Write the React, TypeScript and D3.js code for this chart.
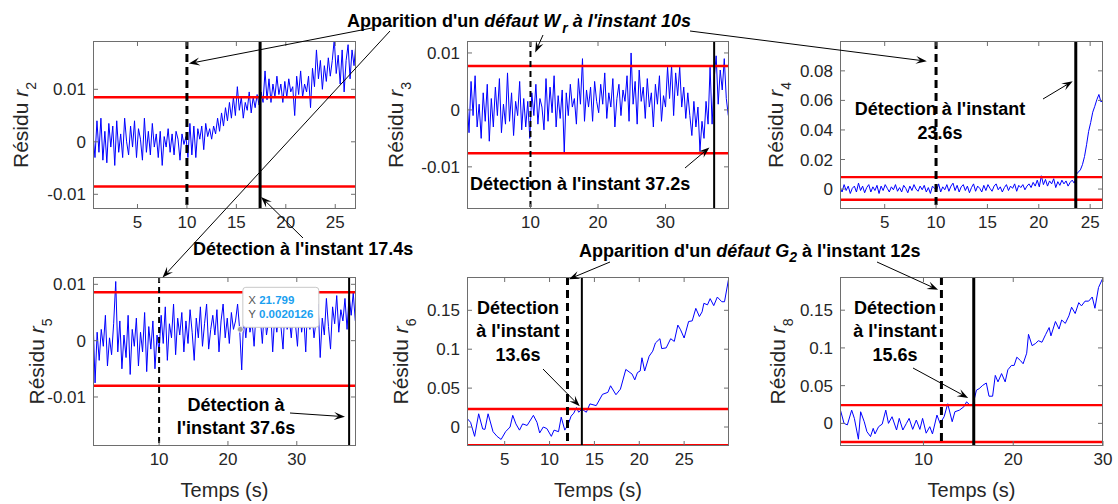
import React from "react";
import * as d3 from "d3";

const FONT = "'Liberation Sans', Arial, Helvetica, sans-serif";

// ---------------- data ----------------
const r2Start = 0.5;
const r2Step = 0.2;
const r2Values = [
  0.0015, -0.003, 0.004, -0.002, 0.0045, -0.0035, 0.002, -0.004, 0.0035, -0.001,
  0.003, -0.0045, 0.004, -0.002, 0.0015, -0.003, 0.0045, 0.0, -0.0025, 0.003,
  -0.001, 0.004, -0.003, 0.0025, 0.0005, -0.0035, 0.0045, -0.002, 0.002, -0.0025,
  0.0035, -0.001, 0.0015, -0.003, 0.002, -0.0045, 0.001, -0.001, 0.0025, -0.002,
  0.0015, -0.0025, 0.002, 0.0005, -0.0035, 0.0015, -0.0005, 0.001,
  -0.003, 0.0035, -0.0025, 0.003, -0.003, 0.0025, 0.0005, 0.003, -0.0015, 0.0035,
  0.001, 0.0025, 0.0005, 0.003, 0.0015, 0.0045, 0.002, 0.0055, 0.003, 0.0065,
  0.004, 0.0075, 0.0045, 0.0085, 0.005, 0.0105, 0.006, 0.0085, 0.0045, 0.0075,
  0.006, 0.0095, 0.0055, 0.0085, 0.0065, 0.009, 0.007, 0.0095, 0.0075, 0.0135,
  0.008, 0.012, 0.0075, 0.011, 0.0085, 0.0125, 0.009, 0.011, 0.0075, 0.0115,
  0.0085, 0.012, 0.0095, 0.0105, 0.005, 0.0125, 0.009, 0.0135, 0.0085, 0.011,
  0.0095, 0.0125, 0.0065, 0.014, 0.0105, 0.0175, 0.012, 0.0155, 0.01, 0.0145,
  0.0115, 0.016, 0.0125, 0.0155, 0.0195, 0.013, 0.0165, 0.011, 0.0175, 0.0095,
  0.0155, 0.0185, 0.012, 0.0175, 0.0145, 0.019,
];

const r3Start = 0.6;
const r3Step = 0.3;
const r3Values = [
  0.002, -0.004, 0.005, -0.001, 0.006, -0.003, 0.001, -0.005, 0.003, -0.002,
  0.0045, -0.0055, 0.002, -0.003, 0.004, -0.001, 0.0055, -0.004, 0.001, -0.0025,
  0.0065, -0.002, 0.003, -0.0045, 0.0015, -0.001, 0.005, -0.0035, 0.002, -0.003,
  0.0015, -0.005, 0.003, -0.001, 0.0045, -0.0025, 0.002, 0.0005, -0.0035, 0.0055,
  -0.002, 0.004, -0.0005, 0.006, -0.003, 0.0025, -0.0015, 0.0035, -0.0075, 0.003,
  -0.001, 0.0045, 0.0005, 0.002, -0.0025, 0.0055, 0.001, 0.009, -0.002, 0.0035,
  0.0005, 0.004, -0.002, 0.005, 0.0015, -0.0005, 0.0045, 0.001, 0.0065, -0.0015,
  0.003, 0.0005, 0.0055, -0.003, 0.002, 0.0045, -0.001, 0.0035, 0.0015, 0.006,
  -0.002, 0.01, 0.001, 0.005, -0.0025, 0.007, 0.0015, 0.004, -0.0015, 0.0055,
  0.0005, 0.003, -0.003, 0.0045, 0.001, 0.006, -0.002, 0.0025, 0.0005, 0.0075,
  0.002, 0.0078, -0.001, 0.0065, 0.0025, 0.0075, 0.0005, 0.004, -0.0015, 0.003,
  -0.001, -0.0045, 0.0015, -0.003, 0.0005, -0.0072, -0.002, -0.005, 0.0015, -0.0025,
  0.0075, -0.0025, 0.0055, 0.0095, 0.001, 0.007, 0.0035, 0.009, 0.002, -0.001,
];

const r4Start = 0.65;
const r4Step = 0.2;
const r4Values = [
  0.001, -0.002, 0.003, -0.001, 0.002, -0.003, 0.0005, 0.002, -0.002, 0.004,
  -0.001, 0.002, -0.0025, 0.001, 0.003, -0.002, 0.0015, -0.001, 0.0025, -0.003,
  0.002, -0.001, 0.003, 0.0005, -0.002, 0.0015, -0.0005, 0.003, -0.0015, 0.001,
  -0.002, 0.0025, 0.0005, -0.0025, 0.002, -0.001, 0.003, 0.0, -0.0015, 0.002,
  -0.0005, 0.0025, -0.002, 0.001, -0.003, 0.002, 0.0005, -0.001, 0.0035, -0.002,
  0.0015, -0.0005, 0.003, -0.0015, 0.002, 0.004, -0.001, 0.0025, -0.002, 0.0015,
  0.003, -0.001, 0.002, -0.0025, 0.001, 0.0035, -0.0015, 0.002, 0.0005, -0.002,
  0.0025, -0.001, 0.003, 0.0005, -0.0015, 0.002, 0.0035, -0.0005, 0.0015, -0.002,
  0.001, 0.003, -0.001, 0.002, 0.0005, 0.0035, -0.0015, 0.0025, 0.001, 0.003,
  -0.0005, 0.002, 0.0035, 0.001, 0.0045, 0.002, 0.006, 0.0015, 0.009, 0.003,
  0.0065, 0.002, 0.0055, 0.0035, 0.007, 0.001, 0.005, 0.0025, 0.006, 0.0035,
  0.0055, 0.002, 0.0045, 0.006, 0.004,
  0.01, 0.0115, 0.013, 0.0165, 0.022, 0.03, 0.039, 0.045, 0.052, 0.056,
  0.0605, 0.064, 0.059, 0.06,
];

const r5Start = 0.4;
const r5Step = 0.3;
const r5Values = [
  0.004, -0.0075, 0.0015, -0.0035, 0.002, -0.001, 0.0045, -0.0045, 0.0005, -0.0025,
  0.003, 0.0105, -0.002, 0.0035, -0.005, 0.001, -0.003, 0.0045, -0.006, 0.002,
  -0.001, 0.004, -0.0045, 0.0015, -0.002, 0.005, -0.0055, 0.0025, -0.0015, 0.0035,
  -0.005, 0.001, -0.002, 0.0045, -0.0005, 0.006, -0.0035, 0.003, 0.0005, 0.0065,
  -0.0025, 0.004, 0.001, 0.005, -0.002, 0.0035, -0.0005, 0.0055, 0.0015, -0.0035,
  0.004, 0.0005, 0.006, -0.001, 0.003, 0.0065, -0.0015, 0.002, 0.0045, 0.001,
  0.0055, -0.002, 0.0035, 0.0065, 0.0005, 0.004, -0.0005, 0.005, 0.002, 0.0035,
  0.0065, 0.002, -0.0052, 0.0045, 0.0005, 0.005, 0.0015, 0.0035, -0.001, 0.0055,
  0.0025, 0.004, -0.0005, 0.006, 0.001, 0.0035, 0.0055, -0.002, 0.0045, 0.0015,
  0.005, 0.0025, -0.0015, 0.0065, 0.002, 0.004, 0.0005, 0.0055, 0.003, -0.001,
  0.006, 0.0015, 0.0045, -0.002, 0.0075, 0.002, 0.005, 0.0005, 0.0035, 0.0065,
  -0.003, 0.004, 0.001, 0.0075, 0.0025, -0.0015, 0.006, 0.003, 0.008, 0.0015,
  0.0055, 0.0035, 0.0075, 0.002, 0.008, 0.0045, 0.0085, 0.0035,
];

const r6Times = [
  0.85, 1.2, 1.65, 2.1, 2.55, 2.8, 3.15, 3.7, 4.15, 4.6,
  5.1, 5.6, 5.9, 6.25, 6.65, 7.0, 7.5, 8.2, 8.6, 8.9,
  9.3, 9.7, 10.2, 10.5, 11.0, 11.3, 11.7, 12.1, 12.4, 12.7,
  13.0, 13.25, 13.6, 14.1, 14.5, 15.2, 15.9, 16.5, 16.8, 17.4,
  17.9, 18.5, 19.2, 19.5, 19.8, 20.1, 20.3, 20.6, 21.1, 21.5,
  21.8, 22.3, 22.5, 23.0, 23.5, 23.9, 24.3, 24.6, 25.0, 25.5,
  25.9, 26.3, 26.7, 27.0, 27.2, 27.6, 27.9, 28.3, 28.7, 29.2,
  29.5, 29.95,
];
const r6Values = [
  0.0106, 0.006, -0.012, 0.017, -0.0025, -0.003, 0.017, -0.006, -0.012, -0.016,
  -0.006, 0.0, 0.015, 0.004, -0.004, 0.004, 0.002, 0.015, 0.006, -0.0076,
  0.0, -0.002, -0.012, -0.004, -0.006, 0.0127, -0.004, 0.004, 0.014, 0.0178,
  0.025, 0.019, 0.023, 0.019, 0.0297, 0.0275, 0.042, 0.0445, 0.053, 0.0415,
  0.0487, 0.074, 0.068, 0.0606, 0.07, 0.072, 0.089, 0.072, 0.091, 0.0975,
  0.108, 0.1135, 0.1008, 0.1017, 0.1135, 0.11, 0.131, 0.125, 0.1144, 0.1356,
  0.1364, 0.1525, 0.142, 0.148, 0.159, 0.157, 0.165, 0.156, 0.167, 0.161,
  0.161, 0.19,
];

const r8Times = [
  0.7, 1.15, 1.52, 2.0, 2.3, 2.75, 3.0, 3.4, 3.7, 4.1,
  4.4, 4.6, 5.0, 5.4, 5.8, 6.1, 6.5, 7.0, 7.3, 7.7,
  8.1, 8.4, 8.8, 9.2, 9.6, 9.9, 10.3, 10.7, 11.0, 11.5,
  11.85, 12.3, 12.7, 13.2, 13.5, 14.0, 14.5, 14.8, 15.2, 15.5,
  15.9, 16.2, 16.6, 17.0, 17.3, 17.7, 18.0, 18.3, 18.7, 19.1,
  19.4, 19.8, 20.1, 20.4, 20.8, 21.1, 21.5, 21.7, 22.1, 22.5,
  22.8, 23.2, 23.6, 24.0, 24.2, 24.7, 25.1, 25.4, 25.8, 26.2,
  26.5, 26.9, 27.3, 27.6, 28.0, 28.4, 28.8, 29.1, 29.5, 30.0,
];
const r8Values = [
  0.0197, 0.0, -0.002, 0.0175, 0.0066, -0.021, 0.0154, 0.0022, -0.011, -0.0175,
  -0.0066, -0.014, -0.0044, -0.001, 0.0175, 0.0, 0.0088, -0.0088, 0.0066, -0.0088,
  0.0, 0.0066, -0.008, 0.0044, -0.008, 0.0066, -0.013, -0.0044, -0.014, 0.011,
  0.0, 0.0088, 0.026, 0.0022, 0.0154, 0.0175, 0.022, 0.0285, 0.024, 0.024,
  0.044, 0.046, 0.0504, 0.0535, 0.036, 0.036, 0.0636, 0.055, 0.066, 0.055,
  0.071, 0.0768, 0.0768, 0.0877, 0.0833, 0.079, 0.093, 0.118, 0.103, 0.106,
  0.1096, 0.1075, 0.1175, 0.127, 0.116, 0.135, 0.125, 0.137, 0.1325, 0.1425,
  0.154, 0.1456, 0.16, 0.1557, 0.162, 0.162, 0.1675, 0.1526, 0.18, 0.193,
];

const xTicksFive = [5, 10, 15, 20, 25];
const xTicksTen = [10, 20, 30];
const yTicksSmall = [-0.01, 0, 0.01];
const yTicksR4 = [0, 0.02, 0.04, 0.06, 0.08];
const yTicksLarge = [0, 0.05, 0.1, 0.15];

const thresholdsR2 = [0.0085, -0.0085];
const thresholdsR3 = [0.0077, -0.0076];
const thresholdsR4 = [0.0081, -0.0072];
const thresholdsR5 = [0.0086, -0.008];
const thresholdsR6 = [0.0231, -0.0235];
const thresholdsR8 = [0.0242, -0.0247];

const faultTimes = { r2: 10, r3: 10, r4: 10, r5: 10, r6: 12, r8: 12 };
const detectTimes = { r2: 17.4, r3: 37.2, r4: 23.6, r5: 37.6, r6: 13.6, r8: 15.6 };

const datatipX = 21.799;
const datatipY = 0.0020126;

const regularTimes = (start: number, step: number, n: number) =>
  d3.range(n).map((i) => +(start + i * step).toFixed(3));

// ---------------- layout ----------------
type PanelCfg = {
  key: string;
  sub: string;
  left: number;
  top: number;
  right: number;
  bottom: number;
  xDomain: [number, number];
  yDomain: [number, number];
  xTicks: number[];
  yTicks: number[];
  times: number[];
  values: number[];
  thr: number[];
  fault: number;
  detect: number;
  faultW: number;
  detectW: number;
  dash: string;
  ylabelX: number;
  xlabel: boolean;
};

const panels: PanelCfg[] = [
  {
    key: "r2", sub: "2", left: 93, top: 41, right: 356, bottom: 209,
    xDomain: [0.5, 27.1], yDomain: [-0.0128, 0.0192],
    xTicks: xTicksFive, yTicks: yTicksSmall,
    times: regularTimes(r2Start, r2Step, r2Values.length), values: r2Values,
    thr: thresholdsR2, fault: faultTimes.r2, detect: detectTimes.r2,
    faultW: 3, detectW: 3, dash: "8,5", ylabelX: 28, xlabel: false,
  },
  {
    key: "r3", sub: "3", left: 467, top: 41, right: 729, bottom: 209,
    xDomain: [0.6, 39.4], yDomain: [-0.0174, 0.0121],
    xTicks: xTicksTen, yTicks: yTicksSmall,
    times: regularTimes(r3Start, r3Step, r3Values.length), values: r3Values,
    thr: thresholdsR3, fault: faultTimes.r3, detect: detectTimes.r3,
    faultW: 2, detectW: 2, dash: "6,4", ylabelX: 403, xlabel: false,
  },
  {
    key: "r4", sub: "4", left: 840, top: 41, right: 1103, bottom: 209,
    xDomain: [0.65, 26.25], yDomain: [-0.0135, 0.1002],
    xTicks: xTicksFive, yTicks: yTicksR4,
    times: regularTimes(r4Start, r4Step, r4Values.length), values: r4Values,
    thr: thresholdsR4, fault: faultTimes.r4, detect: detectTimes.r4,
    faultW: 3, detectW: 3, dash: "8,5", ylabelX: 783, xlabel: false,
  },
  {
    key: "r5", sub: "5", left: 93, top: 277, right: 356, bottom: 446,
    xDomain: [0.4, 38.6], yDomain: [-0.0187, 0.0113],
    xTicks: xTicksTen, yTicks: yTicksSmall,
    times: regularTimes(r5Start, r5Step, r5Values.length), values: r5Values,
    thr: thresholdsR5, fault: faultTimes.r5, detect: detectTimes.r5,
    faultW: 2, detectW: 2, dash: "6,4", ylabelX: 44, xlabel: true,
  },
  {
    key: "r6", sub: "6", left: 467, top: 277, right: 729, bottom: 446,
    xDomain: [0.8, 30], yDomain: [-0.0244, 0.1928],
    xTicks: xTicksFive, yTicks: yTicksLarge,
    times: r6Times, values: r6Values,
    thr: thresholdsR6, fault: faultTimes.r6, detect: detectTimes.r6,
    faultW: 3, detectW: 2, dash: "8,5", ylabelX: 408, xlabel: true,
  },
  {
    key: "r8", sub: "8", left: 840, top: 277, right: 1103, bottom: 446,
    xDomain: [0.7, 30], yDomain: [-0.03, 0.194],
    xTicks: xTicksTen, yTicks: yTicksLarge,
    times: r8Times, values: r8Values,
    thr: thresholdsR8, fault: faultTimes.r8, detect: detectTimes.r8,
    faultW: 3, detectW: 3, dash: "8,5", ylabelX: 785, xlabel: true,
  },
];

const scalesFor = (p: PanelCfg) => ({
  x: d3.scaleLinear().domain(p.xDomain).range([p.left, p.right]),
  y: d3.scaleLinear().domain(p.yDomain).range([p.bottom, p.top]),
});

const AXIS = "#6e6e6e";
const LABEL = "#262626";
const TICK = 5;

function Panel({ p }: { p: PanelCfg }) {
  const { x, y } = scalesFor(p);
  const line = d3
    .line<number>()
    .x((_, i) => x(p.times[i]))
    .y((d) => y(d));
  const clipId = `clip-${p.key}`;
  const w = p.right - p.left;
  const h = p.bottom - p.top;
  const cy = (p.top + p.bottom) / 2;
  return (
    <g>
      <defs>
        <clipPath id={clipId}>
          <rect x={p.left} y={p.top} width={w} height={h} />
        </clipPath>
      </defs>
      <rect x={p.left} y={p.top} width={w} height={h} fill="#fff" />
      <g clipPath={`url(#${clipId})`}>
        <path d={line(p.values) || ""} fill="none" stroke="#0000ff" strokeWidth={1} strokeLinejoin="round" />
        {p.thr.map((t, i) => (
          <line key={i} x1={p.left} x2={p.right} y1={y(t)} y2={y(t)} stroke="#ff0000" strokeWidth={2.4} />
        ))}
        <line x1={x(p.fault)} x2={x(p.fault)} y1={p.top} y2={p.bottom} stroke="#000" strokeWidth={p.faultW} strokeDasharray={p.dash} />
        <line x1={x(p.detect)} x2={x(p.detect)} y1={p.top} y2={p.bottom} stroke="#000" strokeWidth={p.detectW} />
      </g>
      {/* box */}
      <rect x={p.left + 0.5} y={p.top + 0.5} width={w - 1} height={h - 1} fill="none" stroke={AXIS} strokeWidth={1} />
      {/* ticks */}
      {p.xTicks.map((t) => (
        <g key={`xt${t}`}>
          <line x1={x(t)} x2={x(t)} y1={p.bottom} y2={p.bottom - TICK} stroke={AXIS} />
          <line x1={x(t)} x2={x(t)} y1={p.top} y2={p.top + TICK} stroke={AXIS} />
          <text x={x(t)} y={p.bottom + 19} textAnchor="middle" fontSize={17} fill={LABEL}>
            {String(t)}
          </text>
        </g>
      ))}
      {p.yTicks.map((t) => (
        <g key={`yt${t}`}>
          <line x1={p.left} x2={p.left + TICK} y1={y(t)} y2={y(t)} stroke={AXIS} />
          <line x1={p.right} x2={p.right - TICK} y1={y(t)} y2={y(t)} stroke={AXIS} />
          <text x={p.left - 7} y={y(t) + 6} textAnchor="end" fontSize={17} fill={LABEL}>
            {String(t)}
          </text>
        </g>
      ))}
      {/* y label */}
      <text
        transform={`translate(${p.ylabelX},${cy}) rotate(-90)`}
        textAnchor="middle"
        fontSize={21}
        fill={LABEL}
      >
        Résidu <tspan fontStyle="italic">r</tspan>
        <tspan fontSize={14} dy={8}>{p.sub}</tspan>
      </text>
      {p.xlabel && (
        <text x={(p.left + p.right) / 2} y={p.bottom + 51} textAnchor="middle" fontSize={20} fill={LABEL}>
          Temps (s)
        </text>
      )}
    </g>
  );
}

// annotation arrows: tail in page pixels, tip in the data coordinates of a panel
const arrowSpecs: { from: [number, number]; panel: string; to: [number, number] }[] = [
  { from: [372, 28], panel: "r2", to: [10.2, 0.0149] },
  { from: [390, 31], panel: "r5", to: [10.5, 0.0112] },
  { from: [543, 35], panel: "r3", to: [10.7, 0.0101] },
  { from: [690, 31], panel: "r4", to: [9.1, 0.0865] },
  { from: [303, 238], panel: "r2", to: [17.5, -0.0105] },
  { from: [685, 168], panel: "r3", to: [36.5, -0.0066] },
  { from: [1043, 99], panel: "r4", to: [23.3, 0.073] },
  { from: [290, 413], panel: "r5", to: [37.0, -0.0135] },
  { from: [610, 262], panel: "r6", to: [12.15, 0.19] },
  { from: [877, 262], panel: "r8", to: [11.63, 0.177] },
  { from: [543, 369], panel: "r6", to: [13.37, 0.0266] },
  { from: [913, 368], panel: "r8", to: [14.98, 0.0337] },
];

function Arrow({ x1, y1, x2, y2 }: { x1: number; y1: number; x2: number; y2: number }) {
  const a = Math.atan2(y2 - y1, x2 - x1);
  const len = 11;
  const half = 4;
  const c = Math.cos(a);
  const s = Math.sin(a);
  const bx = x2 - len * c;
  const by = y2 - len * s;
  const nx = x2 - len * 0.6 * c;
  const ny = y2 - len * 0.6 * s;
  const head = `M${x2},${y2}L${bx - half * s},${by + half * c}L${nx},${ny}L${bx + half * s},${by - half * c}Z`;
  return (
    <g>
      <line x1={x1} y1={y1} x2={nx} y2={ny} stroke="#000" strokeWidth={1} />
      <path d={head} fill="#000" />
    </g>
  );
}

export default function App() {
  const byKey: Record<string, PanelCfg> = {};
  panels.forEach((p) => (byKey[p.key] = p));
  const r5 = scalesFor(byKey.r5);
  const tipX = r5.x(datatipX);
  const tipY = r5.y(datatipY);

  return (
    <svg
      width={1118}
      height={504}
      style={{ position: "absolute", left: 0, top: 0, fontFamily: FONT, background: "#fff" }}
    >
      <rect width={1118} height={504} fill="#fff" />
      {panels.map((p) => (
        <Panel key={p.key} p={p} />
      ))}

      {/* data tip */}
      <circle cx={tipX} cy={tipY} r={3} fill="#a0a0a0" stroke="#ffffff" strokeWidth={0.8} />
      <rect x={tipX + 2.5} y={tipY - 42} width={76} height={40} rx={3} fill="#fff" stroke="#c8c8c8" strokeWidth={1} />
      <text x={tipX + 8} y={tipY - 25} fontSize={11.5} fill="#555">
        X <tspan fill="#1a9ff0" fontWeight="bold">{String(datatipX)}</tspan>
      </text>
      <text x={tipX + 8} y={tipY - 11} fontSize={11.5} fill="#555">
        Y <tspan fill="#1a9ff0" fontWeight="bold">{String(datatipY)}</tspan>
      </text>

      {/* annotations */}
      {arrowSpecs.map((a, i) => {
        const { x, y } = scalesFor(byKey[a.panel]);
        return <Arrow key={i} x1={a.from[0]} y1={a.from[1]} x2={x(a.to[0])} y2={y(a.to[1])} />;
      })}

      <g fontWeight="bold" fontSize={18} fill="#000">
        <text x={347} y={27}>
          Apparition d'un <tspan fontStyle="italic">défaut W</tspan>
          <tspan fontStyle="italic" fontSize={14} dx={2} dy={6}>r</tspan>
          <tspan fontStyle="italic" dy={-6}> à l'instant 10s</tspan>
        </text>
        <text x={193} y={255}>Détection à l'instant 17.4s</text>
        <text x={470} y={190}>Détection à l'instant 37.2s</text>
        <text x={940} y={115} textAnchor="middle">Détection à l'instant</text>
        <text x={940} y={139} textAnchor="middle">23.6s</text>
        <text x={236} y={411} textAnchor="middle">Détection à</text>
        <text x={236} y={434} textAnchor="middle">l'instant 37.6s</text>
        <text x={579} y={257}>
          Apparition d'un <tspan fontStyle="italic">défaut G</tspan>
          <tspan fontStyle="italic" fontSize={14} dy={5}>2</tspan>
          <tspan dy={-5}> à l'instant 12s</tspan>
        </text>
        <text x={518} y={314} textAnchor="middle">Détection</text>
        <text x={518} y={337} textAnchor="middle">à l'instant</text>
        <text x={518} y={361} textAnchor="middle">13.6s</text>
        <text x={895} y={314} textAnchor="middle">Détection</text>
        <text x={895} y={337} textAnchor="middle">à l'instant</text>
        <text x={895} y={361} textAnchor="middle">15.6s</text>
      </g>
    </svg>
  );
}
